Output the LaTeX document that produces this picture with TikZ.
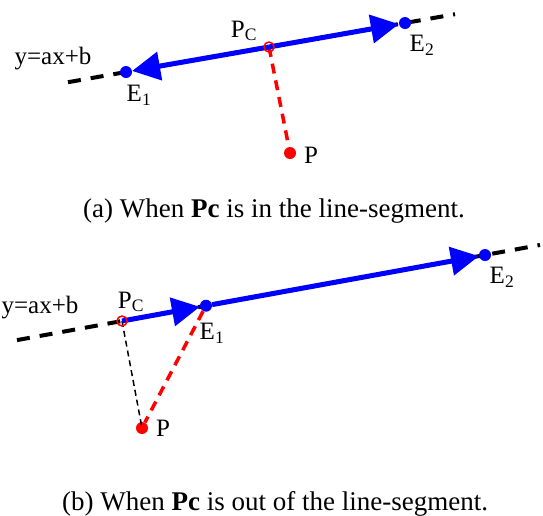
\documentclass[tikz,border=0pt]{standalone}
\usepackage{fontspec}
\setmainfont{Liberation Serif}
\usetikzlibrary{arrows.meta}
\tikzset{
  axisline/.style={line width=4pt, dash pattern=on 13pt off 10pt},
  bline/.style={blue, line width=5pt},
  btip/.style={-{Triangle[length=28pt,width=28pt]}},
  bdot/.style={circle, fill=blue, inner sep=0pt, minimum size=12pt},
  pdot/.style={circle, fill=red, inner sep=0pt, minimum size=12pt},
  pcirc/.style={circle, draw=red, line width=1.5pt, inner sep=0pt, minimum size=10pt},
  rdash/.style={red, line width=3.5pt, dash pattern=on 10pt off 7pt},
  kdash/.style={black, line width=1.5pt, dash pattern=on 6pt off 4pt},
  lbl/.style={font=\fontsize{25}{30}\selectfont, inner sep=0pt},
  captext/.style={font=\fontsize{27}{32}\selectfont, inner sep=0pt, anchor=base west}
}
\begin{document}
\begin{tikzpicture}[x=1pt,y=-1pt]
\useasboundingbox (0,0) rectangle (543,515);
% ---------- panel (a) ----------
\coordinate (aL) at (68,82.2);
\coordinate (aR) at (455,14.2);
\draw[axisline] (aL) -- (aR);
\node[bdot] (aE1) at (126,72) {};
\node[bdot] (aE2) at (405,23) {};
\coordinate (aPc) at (269,47);
\node[pdot] (aP) at (290,153) {};
\draw[rdash] (aPc) -- (aP);
\draw[bline,btip] (aPc) -- (aE1);
\draw[bline,btip] (aPc) -- (aE2);
\node[pcirc] (aPcc) at (aPc) {};
\node[lbl] (aPcl) at (244,31) {P\textsubscript{C}};
\node[lbl] (aE1l) at (139,95) {E\textsubscript{1}};
\node[lbl] (aE2l) at (422,45) {E\textsubscript{2}};
\node[lbl] (aPl) at (311,155) {P};
\node[lbl] (aeq) at (53,59) {y=ax+b};
\node[captext] (acap) at (83,217) {(a) When \textbf{Pc} is in the line-segment.};
% ---------- panel (b) ----------
\coordinate (bL) at (17,340.1);
\coordinate (bR) at (540,245);
\draw[axisline] (bL) -- (bR);
\coordinate (bPc) at (122,321);
\node[bdot] (bE1) at (206,305.7) {};
\node[bdot] (bE2) at (485,255) {};
\node[pdot] (bP) at (142,428) {};
\draw[kdash] (bPc) -- (bP.center);
\draw[rdash] (bE1) -- (bP);
\draw[bline,btip] (bPc) -- (bE1);
\draw[bline,btip] (bE1) -- (bE2);
\node[pcirc] (bPcc) at (bPc) {};
\node[lbl] (bPcl) at (131,302) {P\textsubscript{C}};
\node[lbl] (bE1l) at (212,333) {E\textsubscript{1}};
\node[lbl] (bE2l) at (502,277) {E\textsubscript{2}};
\node[lbl] (bPl) at (163,428) {P};
\node[lbl] (beq) at (40,308) {y=ax+b};
\node[captext] (bcap) at (62,510) {(b) When \textbf{Pc} is out of the line-segment.};
\end{tikzpicture}
\end{document}
